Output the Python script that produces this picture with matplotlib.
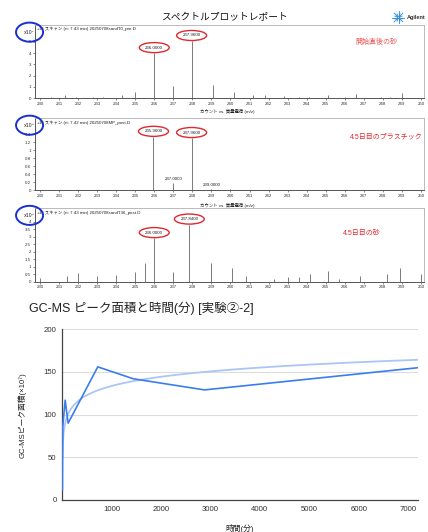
import numpy as np
import matplotlib
matplotlib.use("Agg")
import matplotlib.pyplot as plt

plt.rcParams['font.family'] = ['Liberation Sans', 'Noto Sans CJK JP', 'DejaVu Sans']

W, H = 428, 532

# ---- mass spectra (m/z vs counts) ----
mz_ticks = list(range(230, 251))

sand_start_mz = [230.6, 231.3, 231.9, 232.8, 233.3, 234.3, 235.0, 236.0, 237.0, 237.96,
                 239.1, 240.2, 241.2, 241.8, 242.8, 243.6, 244.1, 245.1, 246.0, 246.6,
                 247.9, 248.4, 249.0]
sand_start_int = [0.15, 0.3, 0.15, 0.15, 0.15, 0.3, 0.55, 4.0, 1.1, 5.07,
                  1.15, 0.53, 0.25, 0.25, 0.2, 0.15, 0.12, 0.25, 0.12, 0.35,
                  0.1, 0.1, 0.44]

plastic_mz = [235.96, 237.0, 237.96, 239.0, 240.0, 241.0]
plastic_int = [1.33, 0.17, 1.30, 0.02, 0.015, 0.01]

sand_day45_mz = [230.0, 231.4, 232.0, 233.0, 234.0, 235.0, 235.5, 236.0, 237.0, 237.84,
                 239.0, 240.1, 240.8, 242.3, 243.0, 243.6, 244.2, 245.1, 245.7, 246.8,
                 248.2, 248.9, 250.0]
sand_day45_int = [0.25, 0.4, 0.6, 0.35, 0.45, 0.67, 1.25, 2.9, 0.65, 3.8,
                  1.25, 0.9, 0.38, 0.2, 0.3, 0.3, 0.5, 0.7, 0.15, 0.4,
                  0.5, 0.9, 0.5]

# ---- GC-MS peak area vs time ----
time_min = [5, 10, 60, 120, 720, 1440, 2880, 7200]
peak_area = [12, 85, 117, 90, 156, 142, 129, 155]
area_ticks = [0, 50, 100, 150, 200]
time_ticks = [1000, 2000, 3000, 4000, 5000, 6000, 7000]

fig = plt.figure(figsize=(W / 100, H / 100), dpi=100)
fig.patch.set_facecolor('white')


def box(x0, y0, x1, y1):
    return [x0 / W, 1 - y1 / H, (x1 - x0) / W, (y1 - y0) / H]


def fxy(x, y):
    return x / W, 1 - y / H


RED = '#e0282e'
BLUE_RING = '#1a2fd0'


def spectrum(rect, mz, inten, ymax, yticks, ylabels, scale, header,
             circled, plain, note, note_pos, note_color):
    ax = fig.add_axes(rect)
    ax.vlines(mz, 0, inten, color='#7a7a7a', lw=0.7)
    ax.set_xlim(229.74, 250.16)
    ax.set_ylim(0, ymax)
    ax.set_xticks(mz_ticks)
    ax.set_xticklabels([str(t) for t in mz_ticks])
    ax.set_yticks(yticks)
    ax.set_yticklabels(ylabels)
    ax.tick_params(labelsize=3.2, length=1.5, width=0.4, pad=1.2, colors='#333')
    for s in ['top', 'right']:
        ax.spines[s].set_color('#b0b0b0')
        ax.spines[s].set_linewidth(0.6)
    for s in ['left', 'bottom']:
        ax.spines[s].set_color('#555')
        ax.spines[s].set_linewidth(0.7)
    ax.text(0.004, 0.94, header, transform=ax.transAxes, fontsize=3.2,
            va='center', ha='left', color='#222')
    ax.text(-0.014, 0.9, scale, transform=ax.transAxes, fontsize=3.4,
            va='center', ha='center', color='#222',
            family=['DejaVu Sans'],
            bbox=dict(boxstyle='ellipse,pad=0.9', fc='none', ec=BLUE_RING, lw=1.4))
    lookup = dict(zip(mz, inten))
    for m in circled:
        ax.annotate(f'{m:.4f}', (m, lookup[m]), xytext=(0, 2.5),
                    textcoords='offset points', ha='center', va='bottom',
                    fontsize=3.2, color='#222',
                    bbox=dict(boxstyle='ellipse,pad=0.35', fc='none', ec=RED, lw=1.0))
    for m in plain:
        ax.annotate(f'{m:.4f}', (m, lookup[m]), xytext=(0, 1.5),
                    textcoords='offset points', ha='center', va='bottom',
                    fontsize=3.2, color='#222')
    ax.text(note_pos[0], note_pos[1], note, transform=ax.transAxes, fontsize=5,
            ha='center', va='center', color=note_color)
    return ax


spectrum(box(35, 24.8, 424, 98.3), sand_start_mz, sand_start_int, 6.5,
         [0, 1, 2, 3, 4, 5], ['0', '1', '2', '3', '4', '5'], 'x10⁷',
         '+EI スキャン (rt: 7.43 min) 20250708sandT0_pre.D',
         [236.0, 237.96], [], '開始直後の砂', (0.877, 0.766), '#ee5555')
spectrum(box(35, 118, 424, 190), plastic_mz, plastic_int, 1.8,
         [0, 0.2, 0.4, 0.6, 0.8, 1.0, 1.2, 1.4],
         ['0', '0.2', '0.4', '0.6', '0.8', '1', '1.2', '1.4'], 'x10⁵',
         '+EI スキャン (rt: 7.42 min) 20250708MP_post.D',
         [235.96, 237.96], [237.0, 239.0], '4.5日目のプラスチック', (0.902, 0.736), RED)
spectrum(box(35, 208, 424, 281.7), sand_day45_mz, sand_day45_int, 4.9,
         [0, 0.5, 1, 1.5, 2, 2.5, 3, 3.5, 4],
         ['0', '0.5', '1', '1.5', '2', '2.5', '3', '3.5', '4'], 'x10⁵',
         '+EI スキャン (rt: 7.43 min) 20250708sandT36_post.D',
         [236.0, 237.84], [], '4.5日目の砂', (0.84, 0.66), RED)

for yy in (111, 205):
    fig.text(*fxy(200, yy), 'カウント vs. 質量電荷 (m/z)', fontsize=3.2,
             ha='left', va='center', color='#222')

fig.text(*fxy(224, 17), 'スペクトルプロットレポート', fontsize=7,
         ha='center', va='center', color='#111')

# Agilent spark logo
logo = fig.add_axes(box(392, 11, 405, 24))
logo.set_xlim(-1, 1)
logo.set_ylim(-1, 1)
logo.axis('off')
for k, a in enumerate(np.linspace(0, 2 * np.pi, 16, endpoint=False)):
    r = 0.95 if k % 2 == 0 else 0.6
    logo.plot([0.15 * np.cos(a), r * np.cos(a)], [0.15 * np.sin(a), r * np.sin(a)],
              color='#2b8ad8', lw=0.6)
fig.text(*fxy(406.5, 17), 'Agilent', fontsize=4.0, weight='bold',
         ha='left', va='center', color='#333')

# ---- line chart ----
ax = fig.add_axes(box(62.2, 329.3, 418, 500))
t = np.array(time_min, dtype=float)
v = np.array(peak_area, dtype=float)
slope, icpt = np.polyfit(np.log(t), v, 1)
tt = np.geomspace(t[0], t[-1], 400)
ax.plot(tt, slope * np.log(tt) + icpt, color='#a9c6f6', lw=1.3, zorder=2)
ax.plot(t, v, color='#3b7ded', lw=1.2, zorder=3)
ax.set_xlim(0, 7200)
ax.set_ylim(0, 200)
ax.set_yticks(area_ticks)
ax.set_xticks(time_ticks)
ax.grid(axis='y', color='#dcdcdc', lw=0.8)
ax.set_axisbelow(True)
for s in ['top', 'right']:
    ax.spines[s].set_visible(False)
ax.spines['left'].set_color('#444')
ax.spines['bottom'].set_color('#444')
ax.spines['left'].set_linewidth(0.9)
ax.spines['bottom'].set_linewidth(0.9)
ax.tick_params(length=0, labelsize=5.6, colors='#333', pad=4)
ax.set_xlabel('時間(分)', fontsize=5.6, color='#222', labelpad=8)
ax.set_ylabel('GC-MSピーク面積(×10⁷)', fontsize=5.6, color='#222', labelpad=12)

fig.text(*fxy(29, 308), 'GC-MS ピーク面積と時間(分) [実験②-2]', fontsize=9,
         ha='left', va='center', color='#222')

fig.savefig('out.png', dpi=100, facecolor='white')
